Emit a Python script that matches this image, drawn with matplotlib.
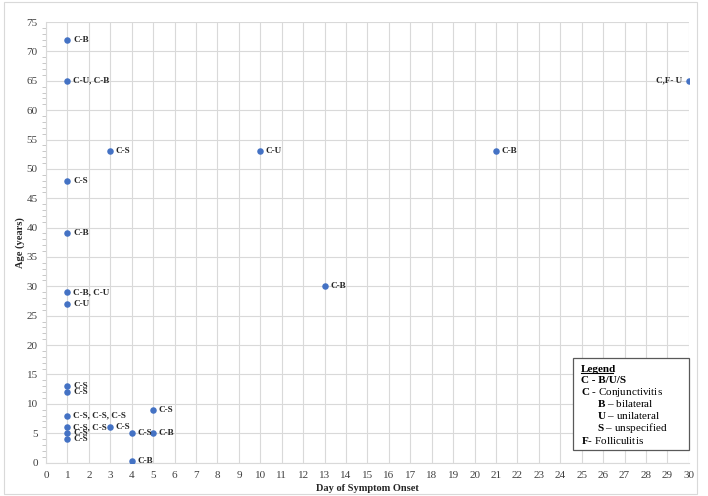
import matplotlib
matplotlib.use("Agg")
import matplotlib.pyplot as plt
from matplotlib.ticker import MultipleLocator
from matplotlib.patches import Rectangle

plt.rcParams['font.family'] = ['Liberation Serif', 'DejaVu Serif']
plt.rcParams['mathtext.fontset'] = 'custom'
plt.rcParams['mathtext.rm'] = 'Liberation Serif'
plt.rcParams['mathtext.bf'] = 'Liberation Serif:bold'

days = [1, 1, 1, 1, 1, 1, 1, 1, 1, 1, 1, 1, 3, 3, 4, 4, 5, 5, 10, 13, 21, 30]
ages = [72, 65, 48, 39, 29, 27, 13, 12, 8, 6, 5, 4, 53, 6, 5, 0.3, 9, 5, 53, 30, 53, 65]
labels = ["C-B", "C-U, C-B", "C-S", "C-B", "C-B, C-U", "C-U", "C-S", "C-S",
          "C-S, C-S, C-S", "C-S, C-S", "C-S", "C-S", "C-S", "C-S", "C-S", "C-B",
          "C-S", "C-B", "C-U", "C-B", "C-B", "C,F- U"]
left_labels = ["C,F- U"]

x_ticks = list(range(0, 31))
y_ticks = list(range(0, 76, 5))

fig = plt.figure(figsize=(7.08, 4.96), dpi=100)
fig.patches.append(Rectangle((0.005, 0.005), 0.98, 0.99, transform=fig.transFigure,
                             fill=False, edgecolor='#d9d9d9', linewidth=0.8))
ax = fig.add_axes([0.065, 0.0675, 0.908, 0.888])

ax.scatter(days, ages, s=22, color='#4472C4', zorder=3, linewidths=0)
for d, a, lab in zip(days, ages, labels):
    if lab in left_labels:
        ax.annotate(lab, (d, a), xytext=(-5, 0), textcoords='offset points',
                    ha='right', va='center', fontsize=6.6, fontweight='bold', color='#262626')
    else:
        ax.annotate(lab, (d, a), xytext=(4, 0), textcoords='offset points',
                    ha='left', va='center', fontsize=6.6, fontweight='bold', color='#262626')

ax.set_xlim(0, 30)
ax.set_ylim(0, 75)
ax.set_xticks(x_ticks)
ax.set_yticks(y_ticks)
ax.yaxis.set_minor_locator(MultipleLocator(1))
ax.grid(True, which='major', color='#d9d9d9', linewidth=0.8)
ax.set_axisbelow(True)
for s in ['top', 'right']:
    ax.spines[s].set_visible(False)
for s in ['left', 'bottom']:
    ax.spines[s].set_color('#d9d9d9')
    ax.spines[s].set_linewidth(0.8)
ax.tick_params(axis='x', which='major', length=0, labelsize=8, colors='#404040', pad=6)
ax.tick_params(axis='y', which='major', length=0, labelsize=8, colors='#404040', pad=6)
ax.tick_params(axis='y', which='minor', length=3, color='#bfbfbf', width=0.6)
ax.set_xlabel("Day of Symptom Onset", fontsize=7.5, fontweight='bold', color='#262626', labelpad=3)
ax.set_ylabel("Age (years)", fontsize=7.5, fontweight='bold', color='#262626', labelpad=1)

# Legend box
lx0, ly0 = 24.6, 2.1
lx1, ly1 = 30.0, 17.8
box = Rectangle((lx0, ly0), lx1 - lx0, ly1 - ly0, fill=True, facecolor='white',
                edgecolor='#595959', linewidth=0.9, zorder=4, clip_on=False)
ax.add_patch(box)
tx = 24.95
ind = 25.7
fs = 8
ys = [15.9, 13.9, 12.0, 10.0, 8.0, 5.9, 3.8]
ax.text(tx, ys[0], "Legend", fontsize=fs, fontweight='bold', va='center', ha='left', zorder=5)
ax.plot([tx, tx + 1.53], [ys[0] - 0.7, ys[0] - 0.7], color='black', linewidth=0.8, zorder=5)
ax.text(tx, ys[1], "C - B/U/S", fontsize=fs, fontweight='bold', va='center', ha='left', zorder=5)
ax.text(tx, ys[2], r"$\mathbf{C}$ - Conjunctivitis", fontsize=fs, va='center', ha='left', zorder=5)
ax.text(ind, ys[3], r"$\mathbf{B}$ – bilateral", fontsize=fs, va='center', ha='left', zorder=5)
ax.text(ind, ys[4], r"$\mathbf{U}$ – unilateral", fontsize=fs, va='center', ha='left', zorder=5)
ax.text(ind, ys[5], r"$\mathbf{S}$ – unspecified", fontsize=fs, va='center', ha='left', zorder=5)
ax.text(tx, ys[6], r"$\mathbf{F}$- Folliculitis", fontsize=fs, va='center', ha='left', zorder=5)

fig.savefig("out.png", dpi=100)
